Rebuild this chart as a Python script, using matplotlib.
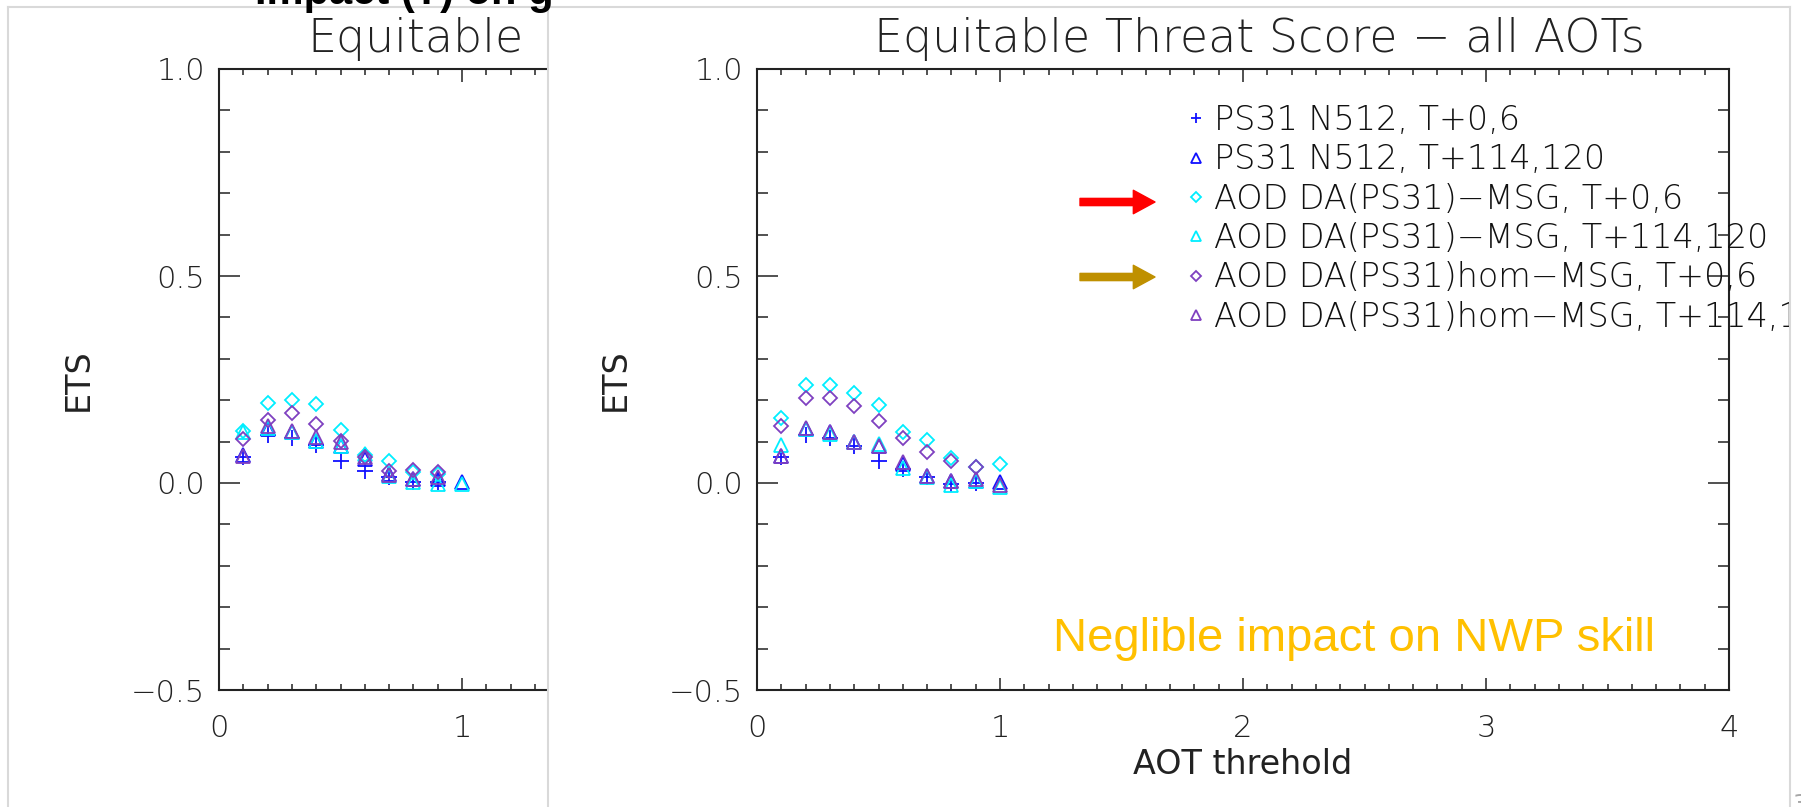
import matplotlib
matplotlib.use("Agg")
import numpy as np
import matplotlib.pyplot as plt
from matplotlib.lines import Line2D
from matplotlib.patches import Rectangle
from matplotlib.ticker import MultipleLocator, FuncFormatter

# AOT thresholds and ETS values
aot = [0.1, 0.2, 0.3, 0.4, 0.5, 0.6, 0.7, 0.8, 0.9, 1.0]
nan = np.nan

# right panel (current plot)
r_ps31_t06 = [0.062, 0.116, 0.108, 0.090, 0.054, 0.034, 0.014, -0.002, 0.000, nan]
r_ps31_t114 = [0.066, 0.130, 0.122, 0.100, 0.090, 0.046, 0.018, 0.006, 0.006, 0.002]
r_msg_t06 = [0.157, 0.236, 0.236, 0.217, 0.188, 0.124, 0.104, 0.060, 0.039, 0.047]
r_msg_t114 = [0.092, 0.130, 0.118, 0.100, 0.094, 0.036, 0.014, -0.004, 0.004, -0.009]
r_hom_t06 = [0.137, 0.206, 0.206, 0.186, 0.150, 0.108, 0.074, 0.054, 0.038, nan]
r_hom_t114 = [0.066, 0.134, 0.122, 0.100, 0.090, 0.050, 0.018, 0.004, 0.010, -0.004]

# left panel (cropped earlier plot)
l_ps31_t06 = [0.062, 0.116, 0.108, 0.092, 0.052, 0.030, 0.014, 0.002, 0.002, nan]
l_ps31_t114 = [0.068, 0.130, 0.122, 0.102, 0.090, 0.058, 0.022, 0.010, 0.010, 0.002]
l_msg_t06 = [0.126, 0.193, 0.201, 0.190, 0.128, 0.068, 0.052, 0.026, 0.022, nan]
l_msg_t114 = [0.124, 0.134, 0.122, 0.102, 0.090, 0.070, 0.018, 0.002, -0.002, -0.002]
l_hom_t06 = [0.106, 0.152, 0.168, 0.142, 0.102, 0.063, 0.030, 0.031, 0.026, nan]
l_hom_t114 = [0.066, 0.138, 0.126, 0.110, 0.098, 0.063, 0.020, 0.010, 0.014, nan]

labels = ["PS31 N512, T+0,6", "PS31 N512, T+114,120",
          "AOD DA(PS31)\u2212MSG, T+0,6", "AOD DA(PS31)\u2212MSG, T+114,120",
          "AOD DA(PS31)hom\u2212MSG, T+0,6", "AOD DA(PS31)hom\u2212MSG, T+114,120"]

BLUE, CYAN, PURPLE = "#1010ff", "#00eeff", "#7f40c0"
styles = [("+", BLUE), ("^", BLUE), ("D", CYAN), ("^", CYAN), ("D", PURPLE), ("^", PURPLE)]

plt.rcParams["font.family"] = ["DejaVu Sans"]
plt.rcParams["font.weight"] = "light"

W, H = 1801, 807
def fx(px):
    return px / W
def fy(py):
    return 1 - py / H

fig = plt.figure(figsize=(W / 100, H / 100), dpi=100)
fig.patch.set_facecolor("white")

XSCALE = 243.0  # pixels per AOT unit
top, bot = 69, 690
ax_r = fig.add_axes([fx(757), fy(bot), (1729 - 757) / W, (bot - top) / H])
ax_l = fig.add_axes([fx(219), fy(bot), (547 - 219) / W, (bot - top) / H])


def ytick_fmt(v, pos):
    return f"{v:.1f}".replace("-", "\u2212")


def style_axes(ax, xmax, right=True):
    ax.set_xlim(0, xmax)
    ax.set_ylim(-0.5, 1.0)
    ax.xaxis.set_major_locator(MultipleLocator(1))
    ax.xaxis.set_minor_locator(MultipleLocator(0.1))
    ax.yaxis.set_major_locator(MultipleLocator(0.5))
    ax.yaxis.set_minor_locator(MultipleLocator(0.1))
    ax.yaxis.set_major_formatter(FuncFormatter(ytick_fmt))
    ax.xaxis.set_major_formatter(FuncFormatter(lambda v, p: f"{v:.0f}"))
    ax.tick_params(which="both", direction="in", top=True, right=right,
                   width=1.1, color="#222222", labelcolor="#222222")
    ax.tick_params(axis="y", which="major", length=15, labelsize=22, pad=10)
    ax.tick_params(axis="y", which="minor", length=8)
    ax.tick_params(axis="x", which="major", length=9, labelsize=22, pad=17)
    ax.tick_params(axis="x", which="minor", length=4.5)
    for s in ax.spines.values():
        s.set_linewidth(1.5)
        s.set_color("#222222")
    ax.spines["right"].set_visible(right)


style_axes(ax_r, 4.0)
style_axes(ax_l, (547 - 219) / XSCALE, right=False)

right_series = [r_ps31_t06, r_ps31_t114, r_msg_t06, r_msg_t114, r_hom_t06, r_hom_t114]
left_series = [l_ps31_t06, l_ps31_t114, l_msg_t06, l_msg_t114, l_hom_t06, l_hom_t114]


def draw(ax, series, with_labels):
    handles = []
    for vals, (m, c), lab in zip(series, styles, labels):
        ms = {"+": 11, "^": 10, "D": 7.5}[m]
        h, = ax.plot(aot, vals, linestyle="none", marker=m, ms=ms,
                     mfc="none", mec=c, mew=1.3, color=c,
                     label=lab if with_labels else None, clip_on=False)
        handles.append(h)
    return handles


handles = draw(ax_r, right_series, True)
draw(ax_l, left_series, False)

leg = ax_r.legend(handles=handles, loc="upper left",
                  bbox_to_anchor=(fx(1188), fy(104)), bbox_transform=fig.transFigure,
                  frameon=False, fontsize=24, markerscale=0.65, handlelength=0.5,
                  handletextpad=0.27, borderpad=0, borderaxespad=0, labelspacing=0.19)
for t in leg.get_texts():
    t.set_color("#111111")

ax_r.set_xlabel("AOT threhold", fontsize=24, color="#222222")
ax_r.xaxis.set_label_coords(0.5, -0.094)
ax_r.set_ylabel("ETS", fontsize=24, color="#222222")
ax_r.yaxis.set_label_coords(-0.129, 0.5)
ax_l.set_ylabel("ETS", fontsize=24, color="#222222")
ax_l.yaxis.set_label_coords(-0.378, 0.5)

fig.text(fx(1259), fy(52), "Equitable Threat Score \u2212 all AOTs", fontsize=33,
         ha="center", va="baseline", color="#222222")
fig.text(fx(524), fy(52), "Equitable", fontsize=33, ha="right", va="baseline",
         color="#222222")

fig.text(fx(1053), fy(651), "Neglible impact on NWP skill", fontsize=34,
         family=["Liberation Sans", "DejaVu Sans"], weight="normal",
         color="#ffc000", ha="left", va="baseline")

# arrows pointing at the DA rows of the legend
for yy, col in [(202, "#ff0000"), (277, "#bf9000")]:
    ax_r.annotate("", xy=(1155, H - yy), xytext=(1080, H - yy),
                  xycoords="figure pixels", textcoords="figure pixels",
                  arrowprops=dict(arrowstyle="simple,head_length=0.6,head_width=0.65,tail_width=0.2",
                                  color=col, shrinkA=0, shrinkB=0, mutation_scale=26))

# slide frame pieces
fig.add_artist(Rectangle((fx(1791), 0), 1 - fx(1791), 1, transform=fig.transFigure,
                         facecolor="white", edgecolor="none", zorder=5))
grey = "#d9d9d9"
fig.add_artist(Line2D([fx(8), fx(1790)], [fy(7), fy(7)], color=grey, lw=1.5, zorder=6))
for xx in (8, 548, 1790):
    fig.add_artist(Line2D([fx(xx), fx(xx)], [fy(7), 0], color=grey, lw=1.5, zorder=6))

fig.text(fx(255), fy(4), "Impact (?) on g", fontsize=30, weight="bold",
         family=["Liberation Sans", "DejaVu Sans"], ha="left", va="baseline",
         color="black", zorder=7)
fig.text(fx(1792), fy(793), "3", fontsize=18, color="#a6a6a6", ha="left", va="top",
         weight="normal", zorder=7)

fig.savefig("out.png", dpi=100, facecolor="white")
